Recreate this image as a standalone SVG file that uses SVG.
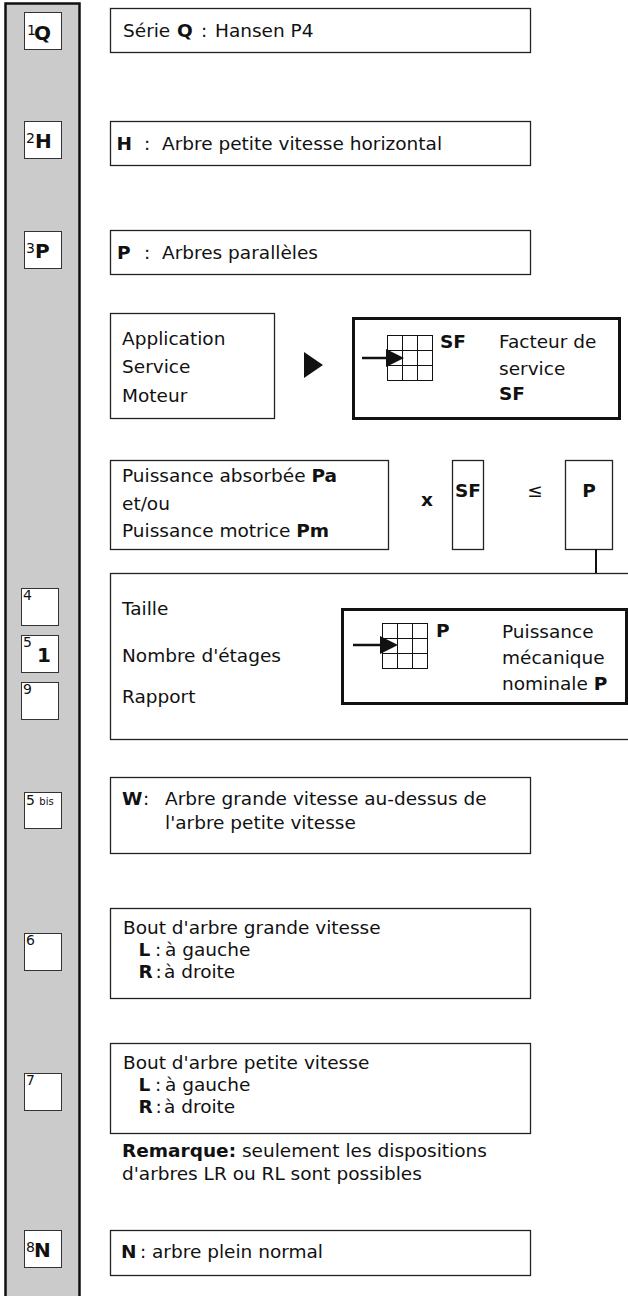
<svg xmlns="http://www.w3.org/2000/svg" width="628" height="1296" viewBox="0 0 628 1296">
<style>
text{font-family:"DejaVu Sans","Liberation Sans",sans-serif;font-size:18.5px;fill:#111}
.b{font-weight:bold}
.box{fill:#fff;stroke:#222;stroke-width:1.3}
.thick{fill:#fff;stroke:#111;stroke-width:3}
.sm{fill:#fff;stroke:#333;stroke-width:1}
.sup{font-size:14px}
.tiny{font-size:10px}
.big{font-size:20px;font-weight:bold}
.grid{fill:none;stroke:#111;stroke-width:1}
</style>
<defs>
<g id="gridicon">
<rect class="grid" x="0" y="0" width="45" height="45"/>
<path class="grid" d="M15 0V45M30 0V45M0 15H45M0 30H45"/>
</g>
</defs>
<g id="column">
<rect x="5.5" y="3.5" width="74" height="1300" fill="#cbcbcb" stroke="#111" stroke-width="2.5"/>
</g>
<g id="code-Q"><rect class="sm" x="24.5" y="12.5" width="37" height="37"/><text class="sup" x="27" y="35">1</text><text class="big" x="34" y="40">Q</text></g>
<g id="code-H"><rect class="sm" x="24.5" y="121.5" width="37" height="37"/><text class="sup" x="26" y="143">2</text><text class="big" x="35" y="148">H</text></g>
<g id="code-P"><rect class="sm" x="24.5" y="231.5" width="37" height="37"/><text class="sup" x="26" y="253">3</text><text class="big" x="35" y="258">P</text></g>
<g id="code-4"><rect class="sm" x="21.5" y="588.5" width="37" height="37"/><text class="sup" x="23" y="600">4</text></g>
<g id="code-5"><rect class="sm" x="21.5" y="635.5" width="37" height="37"/><text class="sup" x="23" y="647">5</text><text class="big" x="37" y="662">1</text></g>
<g id="code-9"><rect class="sm" x="21.5" y="682.5" width="37" height="37"/><text class="sup" x="23" y="694">9</text></g>
<g id="code-5bis"><rect class="sm" x="24.5" y="792.5" width="37" height="36"/><text class="sup" x="26" y="805">5 <tspan class="tiny">bis</tspan></text></g>
<g id="code-6"><rect class="sm" x="24.5" y="933.5" width="37" height="37"/><text class="sup" x="26" y="945">6</text></g>
<g id="code-7"><rect class="sm" x="24.5" y="1073.5" width="37" height="37"/><text class="sup" x="26" y="1085">7</text></g>
<g id="code-N"><rect class="sm" x="24.5" y="1230.5" width="37" height="37"/><text class="sup" x="26" y="1252">8</text><text class="big" x="34" y="1257">N</text></g>

<g id="serie"><rect class="box" x="110.5" y="8.5" width="420" height="44"/><text x="123" y="37">Série <tspan class="b" x="177">Q</tspan><tspan x="201">:</tspan><tspan x="215">Hansen P4</tspan></text></g>
<g id="arbre-h"><rect class="box" x="110.5" y="121.5" width="420" height="44"/><text x="116.5" y="150"><tspan class="b">H</tspan><tspan x="144">:</tspan><tspan x="162">Arbre petite vitesse horizontal</tspan></text></g>
<g id="arbres-p"><rect class="box" x="110.5" y="230.5" width="420" height="44"/><text x="117" y="259"><tspan class="b">P</tspan><tspan x="144">:</tspan><tspan x="162">Arbres parallèles</tspan></text></g>

<g id="application"><rect class="box" x="110.5" y="313.5" width="164" height="105"/>
<text x="122" y="345">Application</text><text x="122" y="373">Service</text><text x="122" y="402">Moteur</text></g>
<g id="triangle"><polygon points="304,352 323,365 304,378" fill="#111"/></g>
<g id="facteur-service"><rect class="thick" x="353.5" y="318.5" width="266" height="100"/>
<use href="#gridicon" x="387.5" y="335.5"/>
<line x1="362" y1="358" x2="390" y2="358" stroke="#111" stroke-width="2.5"/>
<polygon points="386,349 404,358 386,367" fill="#111"/>
<text class="b" x="440" y="348">SF</text>
<text x="499" y="348">Facteur de</text><text x="499" y="375">service</text><text class="b" x="499" y="400">SF</text></g>

<g id="puissance"><rect class="box" x="110.5" y="460.5" width="278" height="89"/>
<text x="122" y="482">Puissance absorbée <tspan class="b">Pa</tspan></text>
<text x="122" y="510">et/ou</text>
<text x="122" y="537">Puissance motrice <tspan class="b">Pm</tspan></text></g>
<g id="times"><text class="b" x="427" y="506" text-anchor="middle">x</text></g>
<g id="sf-box"><rect class="box" x="452.5" y="460.5" width="31" height="89"/><text class="b" x="468" y="497" text-anchor="middle">SF</text></g>
<g id="leq"><text x="535" y="497" text-anchor="middle" font-size="16">≤</text></g>
<g id="p-box"><rect class="box" x="565.5" y="460.5" width="47" height="89"/><text class="b" x="589" y="497" text-anchor="middle">P</text></g>

<g id="connectors"><line x1="596" y1="549" x2="596" y2="573" stroke="#111" stroke-width="2"/></g>

<g id="taille"><rect class="box" x="110.5" y="573.5" width="530" height="166"/>
<text x="122" y="615">Taille</text><text x="122" y="662">Nombre d'étages</text><text x="122" y="703">Rapport</text></g>
<g id="puissance-nominale"><rect class="thick" x="342.5" y="609.5" width="284" height="94"/>
<use href="#gridicon" x="382.5" y="623.5"/>
<line x1="353" y1="645" x2="384" y2="645" stroke="#111" stroke-width="2.5"/>
<polygon points="380,636 398,645 380,654" fill="#111"/>
<text class="b" x="436" y="637">P</text>
<text x="502" y="638">Puissance</text><text x="502" y="664">mécanique</text><text x="502" y="690">nominale <tspan class="b">P</tspan></text></g>

<g id="arbre-w"><rect class="box" x="110.5" y="777.5" width="420" height="76"/>
<text x="122" y="805"><tspan class="b">W</tspan><tspan x="143">:</tspan><tspan x="165">Arbre grande vitesse au-dessus de</tspan></text>
<text x="165" y="829">l'arbre petite vitesse</text></g>

<g id="bout-gv"><rect class="box" x="110.5" y="908.5" width="420" height="90"/>
<text x="123" y="934">Bout d'arbre grande vitesse</text>
<text x="138.5" y="956"><tspan class="b">L</tspan><tspan x="155">:</tspan><tspan x="165">à gauche</tspan></text>
<text x="138.5" y="978"><tspan class="b">R</tspan><tspan x="155.5">:</tspan><tspan x="164">à droite</tspan></text></g>

<g id="bout-pv"><rect class="box" x="110.5" y="1043.5" width="420" height="90"/>
<text x="123" y="1069">Bout d'arbre petite vitesse</text>
<text x="138.5" y="1091"><tspan class="b">L</tspan><tspan x="155">:</tspan><tspan x="165">à gauche</tspan></text>
<text x="138.5" y="1113"><tspan class="b">R</tspan><tspan x="155.5">:</tspan><tspan x="164">à droite</tspan></text></g>

<g id="remarque"><text x="122" y="1157"><tspan class="b">Remarque:</tspan> seulement les dispositions</text>
<text x="122" y="1180">d'arbres LR ou RL sont possibles</text></g>

<g id="arbre-n"><rect class="box" x="110.5" y="1230.5" width="420" height="45"/>
<text x="121" y="1258"><tspan class="b">N</tspan><tspan x="140">:</tspan><tspan x="152">arbre plein normal</tspan></text></g>
</svg>
